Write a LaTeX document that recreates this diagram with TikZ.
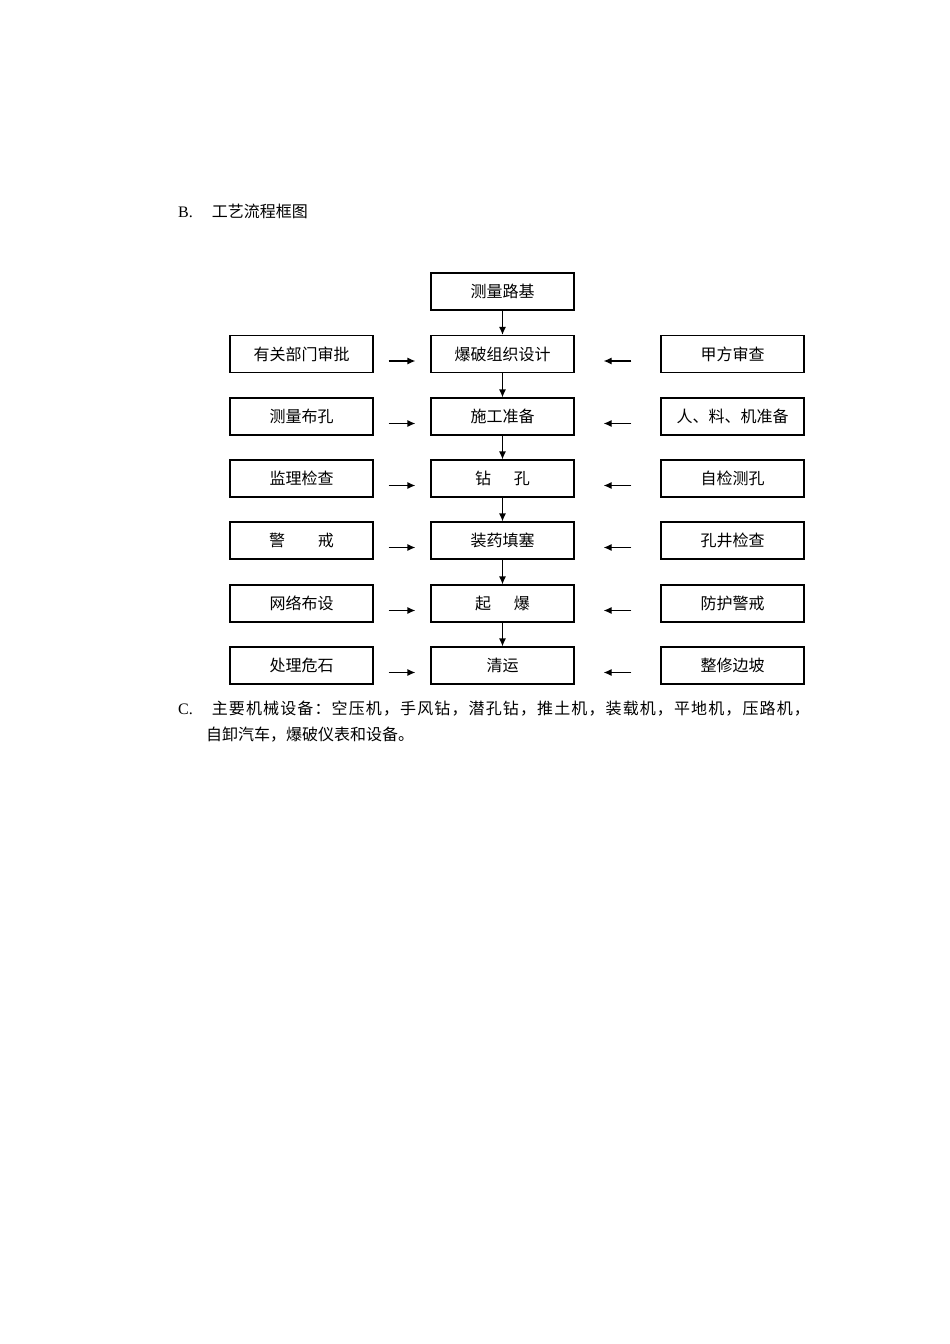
\documentclass[tikz,border=0pt]{standalone}
\usepackage{fontspec}
\setmainfont{Liberation Serif}
\newfontfamily\cjk{Noto Sans CJK SC}
\usetikzlibrary{arrows.meta,positioning}

\begin{document}
\begin{tikzpicture}[
  x=1pt, y=-1pt,
  font=\cjk\fontsize{16}{20}\selectfont, >={Latex[length=8pt,width=7pt]},
  stepbox/.style={rectangle, minimum height=37pt, minimum width=143pt, draw=black, line width=1.2pt, inner sep=0pt},
  feed/.style={->, line width=1.2pt},
  para/.style={anchor=west, inner sep=0pt}
]
\useasboundingbox (0,0) rectangle (950,1344);

% heading
\node[para] (hb) at (178,211) {{\rmfamily B.}\hspace{19pt}工艺流程框图};

% main column
\node[stepbox] (c0) at (502.5,291.5) {测量路基};
\node[stepbox] (c1) at (502.5,354) {爆破组织设计};
\node[stepbox] (c2) at (502.5,416.5) {施工准备};
\node[stepbox] (c3) at (502.5,478.5) {钻\hspace{23pt}孔};
\node[stepbox] (c4) at (502.5,540.5) {装药填塞};
\node[stepbox] (c5) at (502.5,603.5) {起\hspace{23pt}爆};
\node[stepbox] (c6) at (502.5,665.5) {清运};

% left column
\node[stepbox] (l1) at (301.5,354) {有关部门审批};
\node[stepbox] (l2) at (301.5,416.5) {测量布孔};
\node[stepbox] (l3) at (301.5,478.5) {监理检查};
\node[stepbox] (l4) at (301.5,540.5) {警\hspace{33pt}戒};
\node[stepbox] (l5) at (301.5,603.5) {网络布设};
\node[stepbox] (l6) at (301.5,665.5) {处理危石};

% right column
\node[stepbox] (r1) at (732.5,354) {甲方审查};
\node[stepbox] (r2) at (732.5,416.5) {人、料、机准备};
\node[stepbox] (r3) at (732.5,478.5) {自检测孔};
\node[stepbox] (r4) at (732.5,540.5) {孔井检查};
\node[stepbox] (r5) at (732.5,603.5) {防护警戒};
\node[stepbox] (r6) at (732.5,665.5) {整修边坡};

\draw[feed] (c0) -- (c1);
\draw[feed] (c1) -- (c2);
\draw[feed] (c2) -- (c3);
\draw[feed] (c3) -- (c4);
\draw[feed] (c4) -- (c5);
\draw[feed] (c5) -- (c6);

\draw[feed] ([shift={(15,7)}]l1.east) -- ([shift={(-15,7)}]c1.west);
\draw[feed] ([shift={(15,7)}]l2.east) -- ([shift={(-15,7)}]c2.west);
\draw[feed] ([shift={(15,7)}]l3.east) -- ([shift={(-15,7)}]c3.west);
\draw[feed] ([shift={(15,7)}]l4.east) -- ([shift={(-15,7)}]c4.west);
\draw[feed] ([shift={(15,7)}]l5.east) -- ([shift={(-15,7)}]c5.west);
\draw[feed] ([shift={(15,7)}]l6.east) -- ([shift={(-15,7)}]c6.west);

\draw[feed] ([shift={(-29,7)}]r1.west) -- ([shift={(29,7)}]c1.east);
\draw[feed] ([shift={(-29,7)}]r2.west) -- ([shift={(29,7)}]c2.east);
\draw[feed] ([shift={(-29,7)}]r3.west) -- ([shift={(29,7)}]c3.east);
\draw[feed] ([shift={(-29,7)}]r4.west) -- ([shift={(29,7)}]c4.east);
\draw[feed] ([shift={(-29,7)}]r5.west) -- ([shift={(29,7)}]c5.east);
\draw[feed] ([shift={(-29,7)}]r6.west) -- ([shift={(29,7)}]c6.east);

% equipment
\node[para] (hc) at (178,709) {{\rmfamily C.}\hspace{19pt}{\addfontfeature{LetterSpace=7}主要机械设备：空压机，手风钻，潜孔钻，推土机，装载机，平地机，压路机，}};
\node[para] (hc2) at (206,735) {自卸汽车，爆破仪表和设备。};
\end{tikzpicture}
\end{document}
